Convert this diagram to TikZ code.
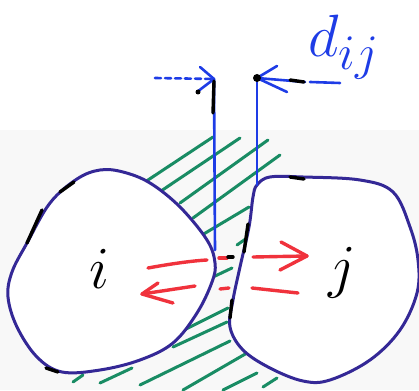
\documentclass[tikz,border=0pt]{standalone}
\definecolor{outl}{RGB}{52,40,150}
\definecolor{dimblue}{RGB}{30,60,230}
\definecolor{hatchgreen}{RGB}{25,140,100}
\definecolor{arrred}{RGB}{240,50,60}
\definecolor{bggray}{RGB}{248,248,248}
\begin{document}
\begin{tikzpicture}[x=1pt,y=-1pt, line cap=round, line join=round,
  blob/.style={draw=outl, line width=3pt, fill=white},
  hatchline/.style={draw=hatchgreen, line width=3pt},
  dimline/.style={draw=dimblue, line width=2.6pt},
  redline/.style={draw=arrred, line width=3.4pt},
  ink/.style={draw=black, line width=3.4pt},
  lbl/.style={inner sep=0pt, font=\Huge, scale=2.4}]
\useasboundingbox (0,0) rectangle (419,390);
\fill[bggray] (0,130) rectangle (419,390);
% hatching
\foreach \a/\b in {{(145,182)}/{(213,137)}, {(158,193)}/{(240,138)}, {(180,203)}/{(268,140)},
  {(193,218)}/{(280,155)}, {(202,235)}/{(249,207)}, {(237,245)}/{(247,238)},
  {(213,277)}/{(232,268)}, {(182,331)}/{(228,308)}, {(173,347)}/{(227,322)},
  {(140,385)}/{(230,341)}, {(183,390)}/{(247,353)}, {(223,390)}/{(257,373)},
  {(263,387)}/{(277,378)}, {(100,383)}/{(132,368)}, {(73,382)}/{(83,375)}}
  \draw[hatchline] \a -- \b;
% blobs
\draw[blob] plot[smooth cycle, tension=0.6] coordinates {(100,170) (77,179) (50,203) (27,243) (12,272) (8,297) (17,327) (37,357) (62,372) (100,370) (140,360) (173,343) (197,313) (212,282) (215,263) (207,240) (180,207) (150,183) (123,172)};
\draw[blob] plot[smooth cycle, tension=0.6] coordinates {(257,185) (270,177) (303,177) (360,180) (393,192) (410,227) (418,260) (417,293) (400,330) (370,360) (330,380) (303,381) (270,368) (243,350) (230,327) (233,300) (240,267) (249,227) (253,197)};
% labels
\node[lbl, anchor=base] (i) at (99,288) {$i$};
\node[lbl, anchor=base] (j) at (342,286) {$j$};
\node[lbl, text=dimblue, anchor=base west] (d) at (308,57) {$d_{ij}$};
% dimension lines
\coordinate (la) at (155,78);
\coordinate (lt) at (214,79);
\coordinate (lb) at (215,250);
\coordinate (rt) at (257,78);
\coordinate (rb) at (257,185);
\coordinate (ra) at (340,83);
\draw[dimline, dash pattern=on 6pt off 4pt] (la) -- (lt);
\draw[dimline] (200,67) -- (lt) -- (197,92);
\draw[dimline] (lt) -- (lb);
\draw[dimline] (rt) -- (305,82);
\draw[dimline] (310,82) -- (ra);
\draw[dimline] (277,66) -- (rt) -- (287,92);
\draw[dimline] (rt) -- (rb);
% red arrows
\coordinate (ua) at (148,268);
\coordinate (ut) at (307,256);
\coordinate (wa) at (298,293);
\coordinate (wt) at (142,294);
\draw[redline] (ua) .. controls (170,264) and (190,261) .. (207,260);
\draw[redline] (219,258) -- (227,258);
\draw[redline] (253,257) -- (ut);
\draw[redline] (281,242) -- (ut) -- (280,270);
\draw[redline] (wa) -- (252,288);
\draw[redline] (220,289) -- (229,288);
\draw[redline] (195,286) -- (wt);
\draw[redline] (158,283) -- (wt) -- (173,303);
% ink marks
\fill (rt) circle (4);
\fill (198,92) circle (2.5);
\draw[ink] (214,81) -- (213,113);
\draw[ink] (290,80) -- (304,82);
\draw[ink] (290,177) -- (304,179);
\draw[ink] (248,224) -- (244,252);
\draw[ink] (232,300) -- (230,318);
\draw[ink] (27,243) -- (42,210);
\draw[ink] (60,192) -- (74,182);
\draw[ink] (46,368) -- (58,372);
\draw[ink] (228,257) -- (233,257);
\end{tikzpicture}
\end{document}
